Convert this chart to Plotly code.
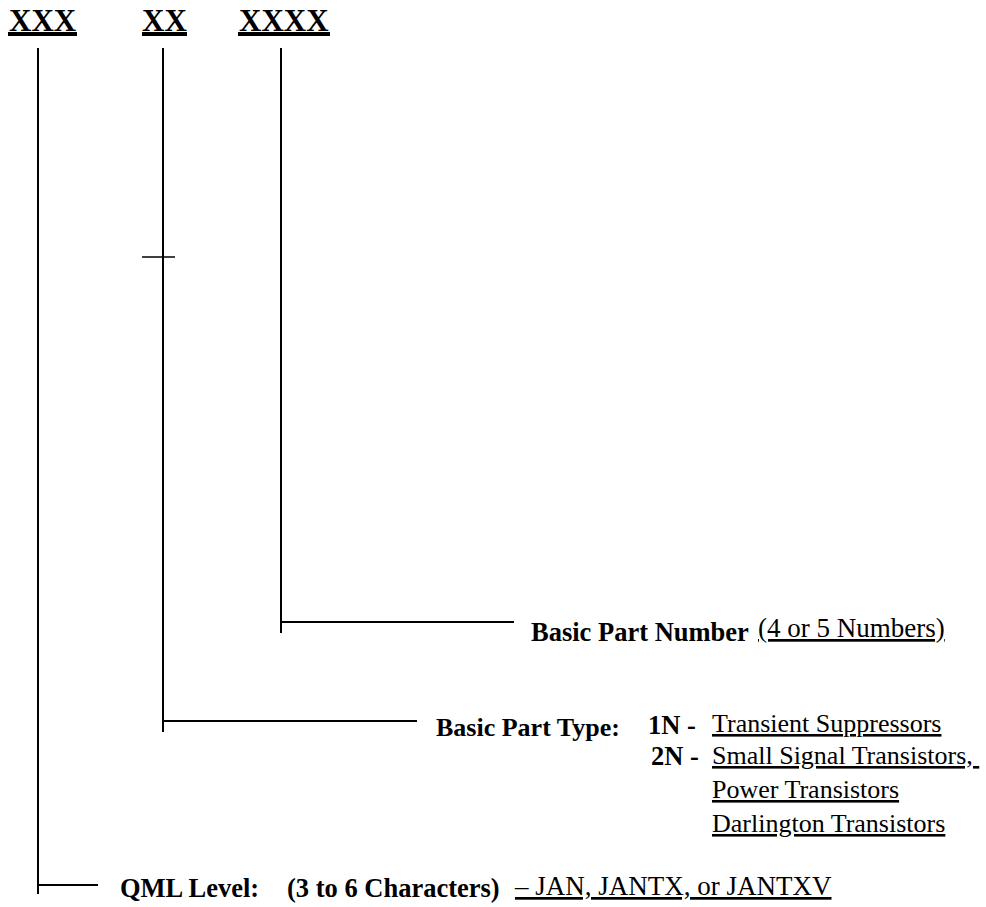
import plotly.graph_objects as go

W, H = 986, 907
FONT = "Liberation Serif"

# Field codes at the top of the part-number diagram
field_codes = ["XXX", "XX", "XXXX"]
# Descriptive labels
part_number_label = ["Basic Part Number", "(4 or 5 Numbers)"]
part_type_label = "Basic Part Type:"
part_type_codes = ["1N -", "2N -"]
part_type_items = ["Transient Suppressors", "Small Signal Transistors, ",
                   "Power Transistors", "Darlington Transistors"]
qml_label = ["QML Level:", "(3 to 6 Characters)", "– JAN, JANTX, or JANTXV"]

fig = go.Figure()
fig.add_trace(go.Scatter(x=[0, W], y=[0, H], mode="markers",
                         marker=dict(opacity=0), hoverinfo="skip", showlegend=False))

shapes = []
annotations = []

def line(x0, y0, x1, y1, w=2):
    shapes.append(dict(type="line", xref="x", yref="y", x0=x0, y0=y0, x1=x1, y1=y1,
                       line=dict(color="black", width=w)))

def text(s, x, y, size=26.5, anchor="left"):
    annotations.append(dict(text=s, x=x, y=y, xref="x", yref="y", xanchor=anchor,
                            yanchor="middle", showarrow=False, borderpad=0,
                            font=dict(family=FONT, size=size, color="black")))

# headers
head_cx = [42.5, 164.5, 284]
head_ul = [(8, 77), (142, 187), (238, 330)]
for code, cx, (u0, u1) in zip(field_codes, head_cx, head_ul):
    text("<b>%s</b>" % code, cx, 20, size=31, anchor="center")
    line(u0, 34, u1, 34, w=4)

# tree lines
line(38, 48, 38, 894)
line(163, 48, 163, 732)
line(281, 48, 281, 633)
line(281, 622, 514, 622)
line(163, 721, 417, 721)
line(38, 885, 98, 885)
line(142, 257, 175, 257, w=1.5)

# labels
text("<b>%s</b>" % part_number_label[0], 530, 632)
text("<u>%s</u>" % part_number_label[1], 757, 628, size=27)
text("<b>%s</b>" % part_type_label, 435, 727, size=26)
text("<b>%s</b>" % part_type_codes[0], 647, 725)
text("<b>%s</b>" % part_type_codes[1], 650, 756)
for item, y in zip(part_type_items, [723, 755, 789, 823]):
    text("<u>%s</u>" % item, 711, y, size=26)
text("<b>%s</b>" % qml_label[0], 119, 888)
text("<b>%s</b>" % qml_label[1], 286, 888)
text("<u>%s</u>" % qml_label[2], 513, 886, size=27)

fig.update_layout(
    width=W, height=H, margin=dict(l=0, r=0, t=0, b=0),
    paper_bgcolor="white", plot_bgcolor="white",
    xaxis=dict(range=[0, W], visible=False, fixedrange=True),
    yaxis=dict(range=[H, 0], visible=False, fixedrange=True),
    shapes=shapes, annotations=annotations, showlegend=False,
)
fig.write_html("out.html", config={"displayModeBar": False},
               post_script="document.body.style.margin='0';document.body.style.overflow='hidden';")
